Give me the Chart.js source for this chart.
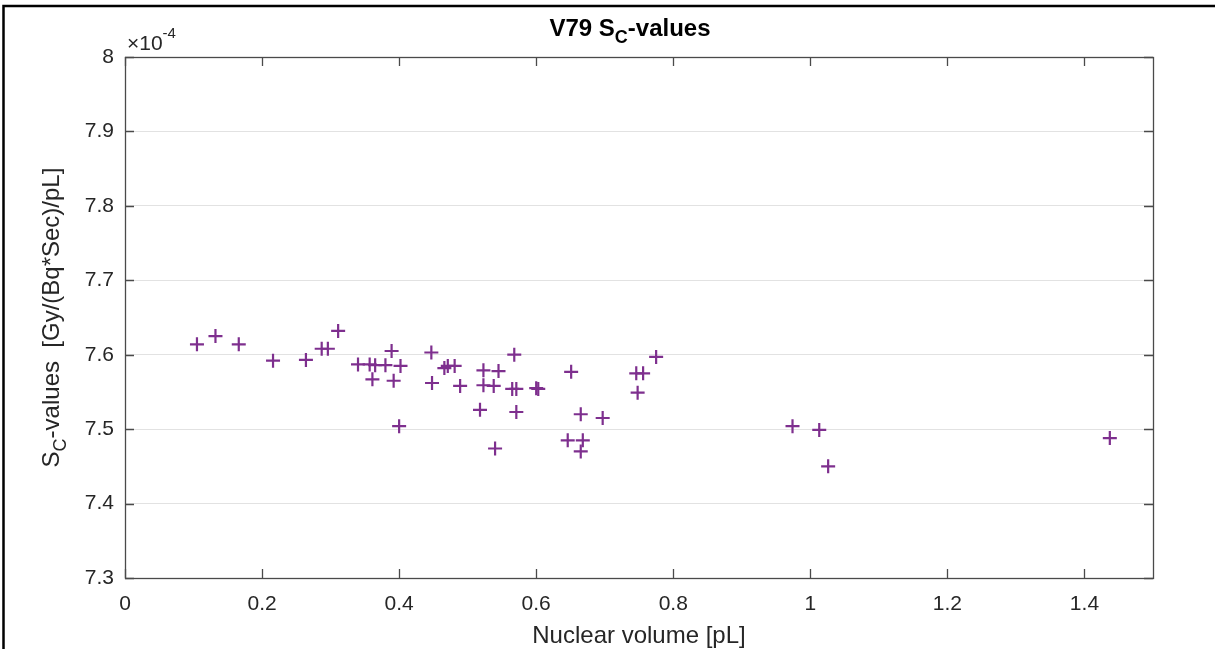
<!DOCTYPE html>
<html>
<head>
<meta charset="utf-8">
<script src="https://cdn.jsdelivr.net/npm/chart.js@4.4.1/dist/chart.umd.min.js"></script>
<style>
  html, body { margin: 0; padding: 0; background: #fff; }
  #wrap { width: 1215px; height: 649px; position: relative; }
</style>
</head>
<body>
<div id="wrap"><canvas id="chart"></canvas></div>
<script>
// nuclear volume [pL]
const nuclearVolume = [
  0.105, 0.132, 0.166, 0.216, 0.264, 0.287, 0.296, 0.311,
  0.340, 0.357, 0.365, 0.380, 0.389, 0.402, 0.361, 0.392, 0.400,
  0.447, 0.448, 0.466, 0.471, 0.481, 0.489,
  0.523, 0.545, 0.568, 0.523, 0.538, 0.565, 0.571, 0.600, 0.603,
  0.518, 0.571, 0.665, 0.697, 0.540, 0.646, 0.668, 0.665,
  0.651, 0.746, 0.756, 0.748, 0.775,
  0.974, 1.013, 1.026, 1.437
];
// S_C-values, in units of 1e-4 Gy/(Bq*Sec)/pL
const scValues = [
  7.614, 7.625, 7.614, 7.592, 7.593, 7.608, 7.608, 7.632,
  7.587, 7.587, 7.586, 7.586, 7.605, 7.585, 7.567, 7.565, 7.504,
  7.603, 7.562, 7.582, 7.585, 7.585, 7.558,
  7.579, 7.578, 7.600, 7.559, 7.558, 7.554, 7.554, 7.555, 7.554,
  7.526, 7.523, 7.520, 7.515, 7.474, 7.485, 7.485, 7.470,
  7.577, 7.575, 7.575, 7.549, 7.597,
  7.504, 7.499, 7.450, 7.488
];
const xTicks = [0, 0.2, 0.4, 0.6, 0.8, 1.0, 1.2, 1.4];
const yTicks = [7.3, 7.4, 7.5, 7.6, 7.7, 7.8, 7.9, 8];
const xRange = [0, 1.5];
const yRange = [7.3, 8];

const axisColor = '#4a4a4a';
const textColor = '#262626';
const fontFam = '"Liberation Sans", Arial, Helvetica, sans-serif';

// draw a run of text pieces (normal / sub / super) starting at x
function drawPieces(ctx, pieces, x, y, align) {
  let total = 0;
  pieces.forEach(p => { ctx.font = p.font; total += ctx.measureText(p.text).width; });
  let cx = align === 'center' ? x - total / 2 : x;
  pieces.forEach(p => {
    ctx.font = p.font;
    ctx.fillText(p.text, cx, y + (p.dy || 0));
    cx += ctx.measureText(p.text).width;
  });
}

const matlabAxes = {
  id: 'matlabAxes',
  beforeDraw(chart) {
    const c = chart.ctx;
    c.save();
    c.fillStyle = '#fff';
    c.fillRect(0, 0, chart.width, chart.height);
    // figure frame
    c.strokeStyle = '#000';
    c.lineWidth = 2.5;
    c.beginPath();
    c.moveTo(3.5, chart.height);
    c.lineTo(3.5, 6);
    c.lineTo(chart.width, 6);
    c.stroke();
    c.restore();
  },
  afterDraw(chart) {
    const c = chart.ctx;
    const a = chart.chartArea;
    const xs = chart.scales.x, ys = chart.scales.y;
    c.save();
    c.strokeStyle = axisColor;
    c.lineWidth = 1.3;
    c.strokeRect(a.left + 0.5, a.top + 0.5, a.right - a.left, a.bottom - a.top);
    c.beginPath();
    xTicks.forEach(v => {
      const px = Math.round(xs.getPixelForValue(v)) + 0.5;
      c.moveTo(px, a.bottom); c.lineTo(px, a.bottom - 9);
      c.moveTo(px, a.top); c.lineTo(px, a.top + 9);
    });
    yTicks.forEach(v => {
      const py = Math.round(ys.getPixelForValue(v)) + 0.5;
      c.moveTo(a.left, py); c.lineTo(a.left + 9, py);
      c.moveTo(a.right, py); c.lineTo(a.right - 9, py);
    });
    c.stroke();

    c.textBaseline = 'alphabetic';
    // title
    c.fillStyle = '#000';
    drawPieces(c, [
      { text: 'V79 S', font: 'bold 24px ' + fontFam },
      { text: 'C', font: 'bold 18px ' + fontFam, dy: 7 },
      { text: '-values', font: 'bold 24px ' + fontFam }
    ], (a.left + a.right) / 2 - 9, 36, 'center');
    // exponent
    c.fillStyle = textColor;
    drawPieces(c, [
      { text: '\u00d710', font: '21px ' + fontFam },
      { text: '-4', font: '15px ' + fontFam, dy: -12 }
    ], a.left + 2, 50, 'left');
    // x label
    drawPieces(c, [{ text: 'Nuclear volume [pL]', font: '24px ' + fontFam }],
      (a.left + a.right) / 2, 643, 'center');
    // y label
    c.translate(59, (a.top + a.bottom) / 2);
    c.rotate(-Math.PI / 2);
    drawPieces(c, [
      { text: 'S', font: '24px ' + fontFam },
      { text: 'C', font: '18px ' + fontFam, dy: 7 },
      { text: '-values  [Gy/(Bq*Sec)/pL]', font: '24px ' + fontFam }
    ], 0, 0, 'center');
    c.restore();
  }
};

new Chart(document.getElementById('chart'), {
  type: 'scatter',
  data: {
    datasets: [{
      data: nuclearVolume.map((v, i) => ({ x: v, y: scValues[i] })),
      pointStyle: 'cross',
      pointRadius: 7,
      pointHoverRadius: 7,
      borderColor: '#7E2F8E',
      backgroundColor: '#7E2F8E',
      borderWidth: 2.2
    }]
  },
  options: {
    responsive: true,
    maintainAspectRatio: false,
    animation: false,
    events: [],
    layout: { padding: { left: 0, right: 62, top: 57, bottom: 0 } },
    plugins: { legend: { display: false }, tooltip: { enabled: false }, title: { display: false } },
    scales: {
      x: {
        type: 'linear',
        min: xRange[0], max: xRange[1],
        afterBuildTicks: s => { s.ticks = xTicks.map(v => ({ value: v })); },
        afterFit: s => { s.height = 71; },
        grid: { display: false, drawTicks: false },
        border: { display: false },
        ticks: {
          color: textColor, padding: 14,
          font: { family: fontFam, size: 21 },
          maxRotation: 0,
          callback: v => String(Math.round(v * 10) / 10)
        }
      },
      y: {
        type: 'linear',
        min: yRange[0], max: yRange[1],
        afterBuildTicks: s => { s.ticks = yTicks.map(v => ({ value: v })); },
        afterFit: s => { s.width = 125; },
        grid: { color: '#e2e2e2', lineWidth: 1, drawTicks: false },
        border: { display: false },
        ticks: {
          color: textColor, padding: 11,
          font: { family: fontFam, size: 21 },
          callback: v => String(Math.round(v * 10) / 10)
        }
      }
    }
  },
  plugins: [matlabAxes]
});
</script>
</body>
</html>
